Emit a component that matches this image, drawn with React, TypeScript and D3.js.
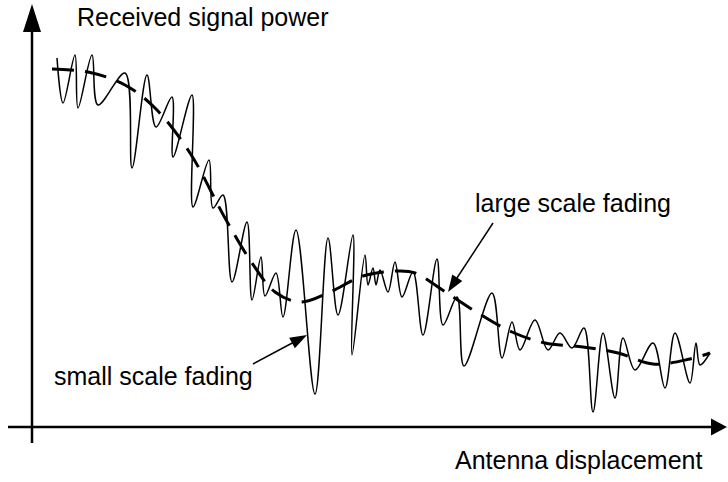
import React from "react";
import * as d3 from "d3";

// Small-scale fading trace: [antenna displacement, received power] (arbitrary units)
const smallScaleX = [25,31,43,46,60,66,93,100,115,124,140,141,160,161,177,181,191,200,215,220,229,233,244,251,264,283,296,306,321,320,333,336,341,344,348,356,363,370,381,391,405,411,425,432,460,470,480,488,503,516,528,540,552,561,571,583,591,603,621,633,643,658,664,668,678];
const smallScaleY = [369,324,372,319,372,322,354,259,352,300,330,270,332,220,267,219,232,145,205,127,170,131,154,110,197,33,189,112,192,72,172,142,159,142,157,135,165,130,155,92,168,102,130,61,134,69,105,77,107,77,94,79,99,15,94,29,89,57,84,39,94,44,84,62,74];

// Large-scale fading (local mean) trace
const largeScaleX = [20,56,93,123,158,193,220,243,268,298,331,368,383,415,446,480,513,551,586,621,658,678];
const largeScaleY = [358,355,342,319,274,209,164,135,125,135,151,156,154,134,114,95,84,80,74,63,68,74];

const labels = {
  yAxis: "Received signal power",
  xAxis: "Antenna displacement",
  large: "large scale fading",
  small: "small scale fading",
};

const W = 728;
const H = 482;

export default function App() {
  const x = d3.scaleLinear().domain([0, 695]).range([32, 727]);
  const y = d3.scaleLinear().domain([0, 427]).range([427, 0]);

  const small = smallScaleX.map((d, i) => [x(d), y(smallScaleY[i])] as [number, number]);
  const large = largeScaleX.map((d, i) => [x(d), y(largeScaleY[i])] as [number, number]);

  const line = d3.line().curve(d3.curveCatmullRom.alpha(0.5));

  const font = "'Liberation Sans', Arial, Helvetica, sans-serif";

  const arrowHead = (x1: number, y1: number, x2: number, y2: number, len: number, half: number) => {
    const a = Math.atan2(y2 - y1, x2 - x1);
    const bx = x2 - len * Math.cos(a);
    const by = y2 - len * Math.sin(a);
    const px = -Math.sin(a) * half;
    const py = Math.cos(a) * half;
    return `M${x2},${y2}L${bx + px},${by + py}L${bx - px},${by - py}Z`;
  };

  return (
    <svg width={W} height={H} style={{ position: "absolute", left: 0, top: 0, background: "#fff" }}>
      <rect width={W} height={H} fill="#fff" />
      {/* axes */}
      <line x1={x(0)} y1={443} x2={x(0)} y2={30} stroke="#000" strokeWidth={2.5} />
      <path d={arrowHead(x(0), 443, x(0), 4, 28, 9)} fill="#000" />
      <line x1={8} y1={y(0)} x2={714} y2={y(0)} stroke="#000" strokeWidth={2.5} />
      <path d={arrowHead(8, y(0), 727, y(0), 16, 8.5)} fill="#000" />

      {/* large scale (dashed) */}
      <path d={line(large) || ""} fill="none" stroke="#000" strokeWidth={3} strokeDasharray="22 11" />
      {/* small scale */}
      <path d={line(small) || ""} fill="none" stroke="#000" strokeWidth={1.5} strokeLinejoin="round" />

      {/* annotations */}
      <line x1={493} y1={223} x2={455} y2={281} stroke="#000" strokeWidth={1.5} />
      <path d={arrowHead(493, 223, 448, 292, 17, 6)} fill="#000" />
      <line x1={253} y1={364} x2={296} y2={341} stroke="#000" strokeWidth={1.5} />
      <path d={arrowHead(253, 364, 307, 335, 17, 6)} fill="#000" />

      <g fontFamily={font} fontSize={25} fill="#000">
        <text x={77} y={26}>{labels.yAxis}</text>
        <text x={455} y={469}>{labels.xAxis}</text>
        <text x={475} y={212}>{labels.large}</text>
        <text x={54} y={385}>{labels.small}</text>
      </g>
    </svg>
  );
}
